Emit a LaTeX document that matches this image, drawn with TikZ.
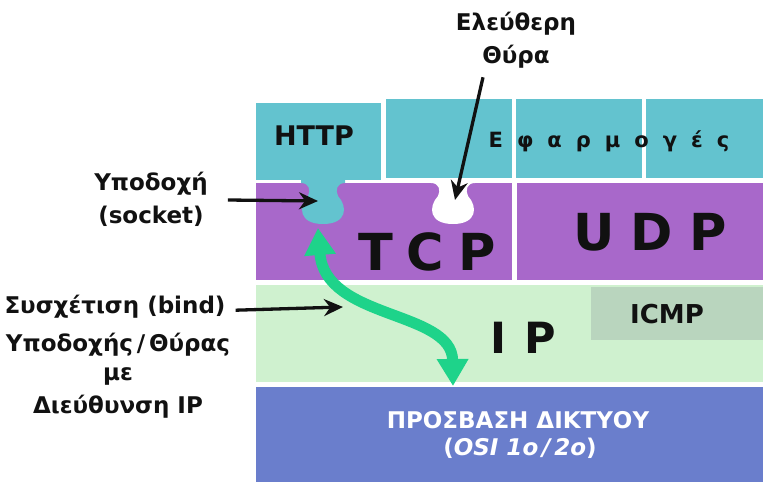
\documentclass[tikz,border=0pt]{standalone}
\usepackage{fontspec}
\setmainfont{DejaVu Sans}
\usetikzlibrary{calc,arrows.meta}
\definecolor{appteal}{HTML}{63C3CF}
\definecolor{tcppurple}{HTML}{A868CA}
\definecolor{iplight}{HTML}{CFF1CF}
\definecolor{icmpgrey}{HTML}{B9D5BE}
\definecolor{netblue}{HTML}{6A7ECC}
\definecolor{bindgreen}{HTML}{1ED38A}
\definecolor{ink}{HTML}{111111}

\tikzset{
  note/.style={font=\bfseries\fontsize{23}{33}\selectfont, align=center, inner sep=0pt, text=ink},
  layerword/.style={font=\bfseries\fontsize{51}{51}\selectfont, inner sep=0pt, text=ink, anchor=base},
  pointer/.style={ink, line width=3.3pt, -{Stealth[length=19pt,width=17pt]}},
  flow/.style={bindgreen, line width=11pt, {Triangle[length=27pt,width=30pt]}-{Triangle[length=27pt,width=30pt]}},
  portcut/.pic={
    \fill[pic actions] (-22,-4) -- (-22,0) .. controls (-14,0) and (-12,7) .. (-15,13)
      .. controls (-25,24) and (-24,41) .. (0,41) .. controls (24,41) and (25,24) .. (15,13)
      .. controls (12,7) and (14,0) .. (22,0) -- (22,-4) -- cycle;
  }
}

\begin{document}
\begin{tikzpicture}[x=1pt,y=-1pt]
  \useasboundingbox (0,0) rectangle (763,482);

  % layers
  \fill[appteal] (256,103) rectangle (381,180);
  \fill[appteal] (386,99) rectangle (512,178);
  \fill[appteal] (516,99) rectangle (642,178);
  \fill[appteal] (646,99) rectangle (763,178);
  \fill[tcppurple] (256,183) rectangle (512,280);
  \fill[tcppurple] (517,183) rectangle (763,280);
  \fill[iplight] (256,285) rectangle (763,382);
  \fill[icmpgrey] (591,287) rectangle (763,340);
  \fill[netblue] (256,387) rectangle (763,482);

  % socket and free port
  \pic[fill=appteal] (sockport) at (323,183) {portcut};
  \pic[fill=white] (freeport) at (453,183) {portcut};

  \coordinate (socktip) at (318,201);
  \coordinate (freetip) at (455,200);
  \coordinate (bindtip) at (343,307);
  \coordinate (sockbot) at (318,228);
  \coordinate (netin) at (453,386);

  \draw[flow] (sockbot) .. controls (325,320) and (452,310) .. (netin);

  % layer names
  \node[layerword, font=\bfseries\fontsize{27}{27}\selectfont] (http) at (314,145) {HTTP};
  \node[layerword, font=\bfseries\fontsize{21}{21}\selectfont] (apps) at (609,147) {\spaceskip=14pt Ε φ α ρ μ ο γ έ ς};
  \node[layerword] (tcp) at (427,270) {\spaceskip=14pt T C P};
  \node[layerword] (udp) at (650,250) {\spaceskip=16pt U D P};
  \node[layerword, font=\bfseries\fontsize{43}{43}\selectfont] (ip) at (523,353) {\spaceskip=18pt I P};
  \node[layerword, font=\bfseries\fontsize{26}{26}\selectfont] (icmp) at (667,323) {ICMP};
  \node[layerword, font=\bfseries\fontsize{23}{23}\selectfont, text=white] (net) at (518,428) {ΠΡΟΣΒΑΣΗ ΔΙΚΤΥΟΥ};
  \node[layerword, font=\bfseries\fontsize{23}{23}\selectfont, text=white] (osi) at (520,455) {(\textit{OSI 1ο\,/\,2ο\/})};

  % annotations
  \node[note] (sock) at (151,199) {Υποδοχή\\(socket)};
  \node[note] (free) at (516,40) {Ελεύθερη\\Θύρα};
  \node[note, anchor=base] (bind) at (115,313) {Συσχέτιση (bind)};
  \node[note, anchor=base] (bindb) at (118,351) {Υποδοχής\,/\,Θύρας};
  \node[note, anchor=base] (bindc) at (118,380) {με};
  \node[note, anchor=base] (bindd) at (118,413) {Διεύθυνση IP};

  \draw[pointer] ($(sock.east)+(20,1)$) -- (socktip);
  \draw[pointer] ($(free.south)+(-33,9)$) -- (freetip);
  \draw[pointer] ($(bind.east)+(10,4)$) -- (bindtip);
\end{tikzpicture}
\end{document}
